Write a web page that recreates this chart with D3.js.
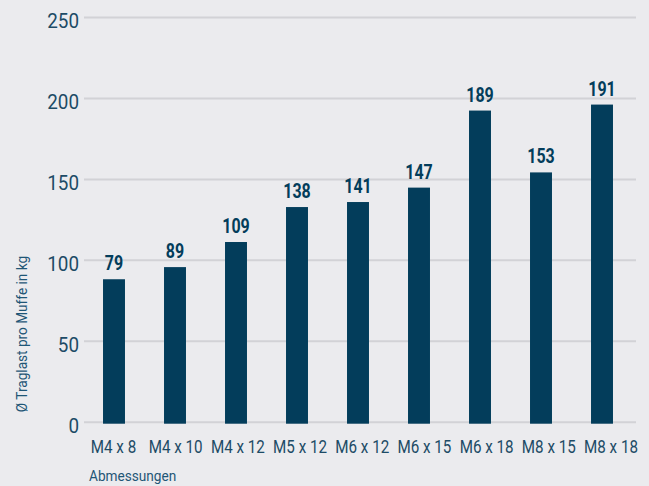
<!DOCTYPE html>
<html>
<head>
<meta charset="utf-8">
<script src="https://cdn.jsdelivr.net/npm/d3@7"></script>
<style>
  html, body { margin: 0; padding: 0; background: #ebebee; }
  svg { display: block; }
  text { font-family: Roboto, sans-serif; }
</style>
</head>
<body>
<div id="chart"></div>
<script>
// categories and values
const categories = ["M4 x 8", "M4 x 10", "M4 x 12", "M5 x 12", "M6 x 12", "M6 x 15", "M6 x 18", "M8 x 15", "M8 x 18"];
// bar heights as drawn in the picture
const barValues = [88, 95.5, 111, 132.6, 135.7, 144.6, 192.2, 154, 195.9];
// printed labels above the bars
const labelValues = [79, 89, 109, 138, 141, 147, 189, 153, 191];
const yTicks = [0, 50, 100, 150, 200, 250];

const w = 649, h = 486;
const barColor = "#033d5b";
const gridColor = "#d2d2d6";
const textColor = "#1d4b66";
const titleColor = "#1f5676";
// the original face is a narrow DIN style, so Roboto gets squeezed a bit
const narrow = 0.8;

const svg = d3.select("#chart")
    .append("svg")
    .attr("width", w)
    .attr("height", h);

const xScale = d3.scaleBand()
    .domain(categories)
    .range([83.5, 632.5])
    .paddingInner(0.64)
    .paddingOuter(0.32);

// category labels sit slightly wider than the bars
const xLabel = d3.scalePoint()
    .domain(categories)
    .range([113.5, 611]);

const yScale = d3.scaleLinear()
    .domain([0, 250])
    .range([421.7, 17]);

// gridlines
svg.append("g")
    .attr("class", "grid")
    .attr("transform", "translate(84,0)")
    .call(d3.axisLeft(yScale).tickValues(yTicks).tickSize(-552).tickFormat(""))
    .call(g => g.select(".domain").remove())
    .call(g => g.selectAll("line").attr("stroke", gridColor).attr("stroke-width", 2));

// y tick labels
svg.append("g")
    .selectAll("text")
    .data(yTicks)
    .enter()
    .append("text")
    .attr("transform", d => `translate(79,${yScale(d) + 11}) scale(0.92,1)`)
    .attr("text-anchor", "end")
    .style("font-size", "20.5px")
    .style("fill", textColor)
    .text(d => d);

// bars
svg.append("g")
    .selectAll("rect")
    .data(barValues)
    .enter()
    .append("rect")
    .attr("fill", barColor)
    .attr("x", (d, i) => xScale(categories[i]))
    .attr("y", d => yScale(d))
    .attr("width", xScale.bandwidth())
    .attr("height", d => yScale(0) - yScale(d) + 2);

// value labels
svg.append("g")
    .selectAll("text")
    .data(labelValues)
    .enter()
    .append("text")
    .attr("transform", (d, i) => `translate(${xScale(categories[i]) + xScale.bandwidth() / 2},${yScale(barValues[i]) - 9}) scale(0.82,1)`)
    .attr("text-anchor", "middle")
    .style("font-weight", "bold")
    .style("font-size", "19.5px")
    .style("fill", barColor)
    .text(d => d);

// category labels
svg.append("g")
    .selectAll("text")
    .data(categories)
    .enter()
    .append("text")
    .attr("transform", d => `translate(${xLabel(d)},453) scale(${narrow},1)`)
    .attr("text-anchor", "middle")
    .style("font-size", "19px")
    .style("fill", textColor)
    .text(d => d);

// axis titles
svg.append("text")
    .attr("transform", "translate(27,334) rotate(-90) scale(0.88,1)")
    .attr("text-anchor", "middle")
    .style("font-size", "15.5px")
    .style("fill", titleColor)
    .text("Ø Traglast pro Muffe in kg");

svg.append("text")
    .attr("transform", "translate(89,481) scale(0.88,1)")
    .style("font-size", "15.5px")
    .style("fill", titleColor)
    .text("Abmessungen");
</script>
</body>
</html>
